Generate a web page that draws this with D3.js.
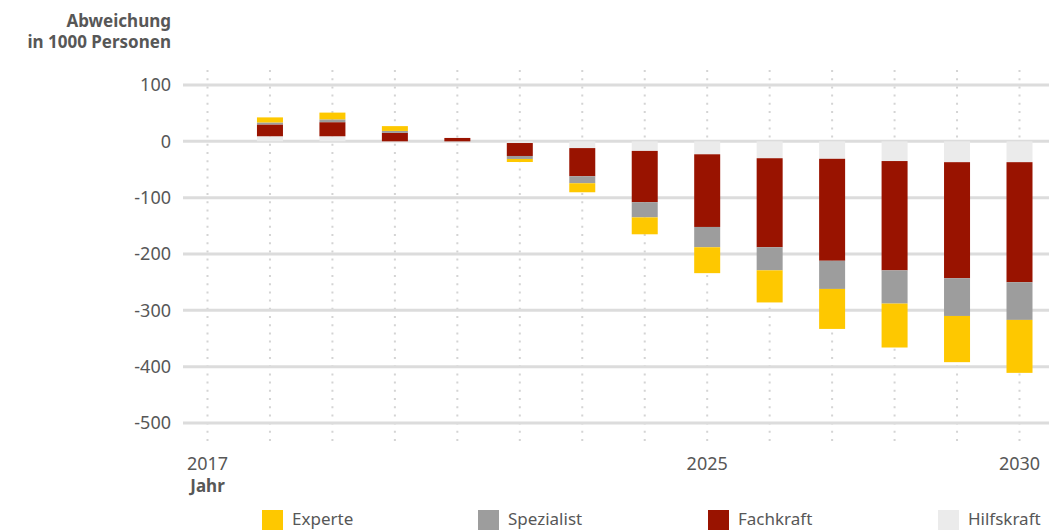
<!DOCTYPE html>
<html>
<head>
<meta charset="utf-8">
<script src="https://cdn.jsdelivr.net/npm/d3@7"></script>
<style>
  html, body { margin: 0; padding: 0; background: #fff; }
  svg { display: block; font-family: "Noto Sans", "Open Sans", sans-serif; }
</style>
</head>
<body>
<svg id="chart" width="1049" height="530"></svg>
<script>
// Abweichung von Angebot und Nachfrage nach Anforderungsniveau (in 1000 Personen)
const years       = [2017, 2018, 2019, 2020, 2021, 2022, 2023, 2024, 2025, 2026, 2027, 2028, 2029, 2030];
const hilfskraft  = [0,   9,   9,  -3,  0,  -3,  -12, -17, -23,  -30,  -31,  -35,  -37,  -37];
const fachkraft   = [0,  21,  25,  15,  6, -23,  -50, -91, -129, -158, -181, -194, -206, -213];
const spezialist  = [0, 3.5,   5, 3.5,  0, -5.3, -12.4, -27, -36, -41,  -50,  -59,  -67,  -67];
const experte     = [0,   9,  12, 8.5,  0, -5.4, -16, -30,  -46,  -57,  -71,  -78,  -82,  -94];

const yTicks = [100, 0, -100, -200, -300, -400, -500];
const xTickLabels = [2017, 2025, 2030];

const seriesNames = ["Hilfskraft", "Fachkraft", "Spezialist", "Experte"];
const colors = {
  Experte: "#fec800",
  Spezialist: "#9d9d9d",
  Fachkraft: "#991300",
  Hilfskraft: "#ebebeb"
};
const legendOrder = ["Experte", "Spezialist", "Fachkraft", "Hilfskraft"];

const rows = years.map((y, i) => ({
  year: y,
  Hilfskraft: hilfskraft[i],
  Fachkraft: fachkraft[i],
  Spezialist: spezialist[i],
  Experte: experte[i]
}));

const svg = d3.select("#chart");
const textColor = "#575757";

const x = d3.scaleLinear().domain([2017, 2030]).range([207.5, 1019.5]);
const y = d3.scaleLinear().domain([-500, 100]).range([423, 85]);
const barW = 26;

// vertical dotted guides per year
svg.append("g").selectAll("line").data(years).join("line")
  .attr("x1", d => x(d)).attr("x2", d => x(d))
  .attr("y1", 70).attr("y2", 442)
  .attr("stroke", "#d4d4d4").attr("stroke-width", 2)
  .attr("stroke-dasharray", "2,6.2");

// horizontal grid lines
svg.append("g").selectAll("line").data(yTicks).join("line")
  .attr("x1", 183).attr("x2", 1049)
  .attr("y1", d => y(d)).attr("y2", d => y(d))
  .attr("stroke", "#dcdcdc").attr("stroke-width", 3);

// y tick labels
svg.append("g").selectAll("text").data(yTicks).join("text")
  .attr("x", 171).attr("y", d => y(d))
  .attr("dy", "0.35em")
  .attr("text-anchor", "end")
  .attr("font-size", 18).attr("fill", textColor)
  .text(d => d);

// y axis title
const yTitle = svg.append("text").attr("text-anchor", "end")
  .attr("font-size", 17).attr("font-weight", "bold").attr("fill", textColor);
yTitle.append("tspan").attr("x", 171).attr("y", 27).text("Abweichung");
yTitle.append("tspan").attr("x", 171).attr("y", 48).text("in 1000 Personen");

// stacked bars, diverging around zero
const stack = d3.stack().keys(seriesNames).offset(d3.stackOffsetDiverging);
const stacked = stack(rows);

svg.append("g").selectAll("g").data(stacked).join("g")
  .attr("fill", d => colors[d.key])
  .selectAll("rect").data(d => d).join("rect")
  .attr("x", d => x(d.data.year) - barW / 2)
  .attr("width", barW)
  .attr("y", d => y(Math.max(d[0], d[1])))
  .attr("height", d => Math.abs(y(d[0]) - y(d[1])));

// x tick labels
svg.append("g").selectAll("text").data(xTickLabels).join("text")
  .attr("x", d => x(d)).attr("y", 470)
  .attr("text-anchor", "middle")
  .attr("font-size", 18).attr("fill", textColor)
  .text(d => d);

svg.append("text")
  .attr("x", x(2017)).attr("y", 492)
  .attr("text-anchor", "middle")
  .attr("font-size", 17).attr("font-weight", "bold").attr("fill", textColor)
  .text("Jahr");

// legend
const legendX = [262, 478, 708, 938];
const lg = svg.append("g").selectAll("g").data(legendOrder).join("g")
  .attr("transform", (d, i) => `translate(${legendX[i]},510)`);
lg.append("rect").attr("width", 21).attr("height", 20).attr("fill", d => colors[d]);
lg.append("text").attr("x", 30).attr("y", 15)
  .attr("font-size", 17).attr("fill", textColor)
  .text(d => d);
</script>
</body>
</html>
